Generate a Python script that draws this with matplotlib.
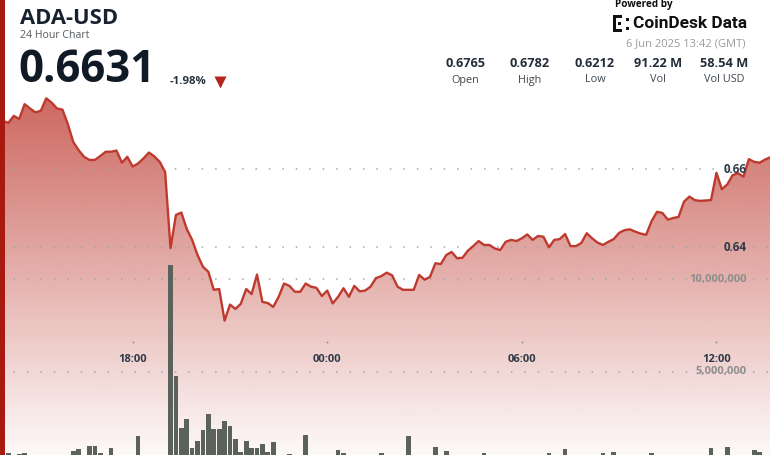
import numpy as np
import pandas as pd
import matplotlib
matplotlib.use("Agg")
import matplotlib.pyplot as plt
import matplotlib.dates as mdates
from matplotlib.patches import Rectangle

# ---------------- data ----------------
prices = [
    0.6765, 0.6724, 0.6719, 0.6737, 0.6729, 0.6767, 0.6756, 0.6746, 0.6750, 0.6782, 0.6771, 0.6756,
    0.6753, 0.6716, 0.6670, 0.6649, 0.6632, 0.6624, 0.6624, 0.6634, 0.6645, 0.6645, 0.6648, 0.6617,
    0.6632, 0.6607, 0.6615, 0.6628, 0.6643, 0.6633, 0.6619, 0.6593, 0.6398, 0.6483, 0.6489, 0.6447,
    0.6419, 0.6380, 0.6350, 0.6337, 0.6291, 0.6293, 0.6212, 0.6253, 0.6242, 0.6255, 0.6293, 0.6280,
    0.6330, 0.6260, 0.6257, 0.6247, 0.6273, 0.6307, 0.6301, 0.6286, 0.6286, 0.6307, 0.6299, 0.6296,
    0.6275, 0.6289, 0.6256, 0.6273, 0.6295, 0.6273, 0.6301, 0.6287, 0.6289, 0.6299, 0.6321, 0.6326,
    0.6335, 0.6328, 0.6299, 0.6291, 0.6291, 0.6291, 0.6329, 0.6317, 0.6324, 0.6359, 0.6357, 0.6380,
    0.6388, 0.6372, 0.6373, 0.6391, 0.6403, 0.6416, 0.6406, 0.6406, 0.6397, 0.6393, 0.6414, 0.6419,
    0.6416, 0.6423, 0.6433, 0.6419, 0.6429, 0.6427, 0.6400, 0.6419, 0.6421, 0.6434, 0.6403, 0.6403,
    0.6411, 0.6436, 0.6423, 0.6412, 0.6406, 0.6414, 0.6421, 0.6437, 0.6444, 0.6446, 0.6440, 0.6435,
    0.6432, 0.6467, 0.6491, 0.6488, 0.6471, 0.6475, 0.6478, 0.6517, 0.6530, 0.6521, 0.6519, 0.6520,
    0.6521, 0.6591, 0.6549, 0.6561, 0.6585, 0.6590, 0.6581, 0.6626, 0.6619, 0.6617, 0.6625, 0.6631,
]

volumes_m = [
    0.30, 0.30, 0.58, 0.30, 0.55, 0.58, 0.30, 0.30, 0.30, 0.30, 0.30, 0.30,
    0.30, 0.30, 0.73, 0.82, 0.30, 0.98, 0.98, 0.60, 0.30, 0.85, 0.30, 0.30,
    0.30, 0.30, 1.52, 0.30, 0.30, 0.30, 0.30, 0.30, 10.77, 4.77, 1.97, 2.42,
    0.87, 1.25, 1.86, 2.71, 1.90, 1.90, 2.32, 2.08, 1.34, 0.64, 1.25, 0.85,
    0.85, 1.10, 0.67, 1.18, 0.30, 0.30, 0.53, 0.30, 0.30, 1.58, 0.30, 0.30,
    0.30, 0.30, 0.30, 0.76, 0.58, 0.30, 0.30, 0.30, 0.30, 0.30, 0.30, 0.58,
    0.30, 0.30, 0.30, 0.30, 1.54, 0.30, 0.30, 0.30, 0.30, 0.94, 0.30, 0.73,
    0.30, 0.30, 0.30, 0.30, 0.30, 0.30, 0.58, 0.30, 0.30, 0.30, 0.30, 0.30,
    0.30, 0.30, 0.30, 0.30, 0.30, 0.30, 0.58, 0.30, 0.30, 0.82, 0.30, 0.30,
    0.30, 0.30, 0.30, 0.30, 0.58, 0.30, 0.68, 0.30, 0.30, 0.30, 0.30, 0.30,
    0.30, 0.58, 0.30, 0.30, 0.30, 0.30, 0.30, 0.30, 0.30, 0.30, 0.30, 0.30,
    0.85, 0.30, 0.30, 0.94, 0.30, 0.30, 0.30, 0.30, 0.76, 0.67, 0.30, 0.30,
]

times = pd.date_range("2025-06-05 13:50", periods=len(prices), freq="10min")
tick_times = pd.to_datetime(["2025-06-05 18:00", "2025-06-06 00:00",
                             "2025-06-06 06:00", "2025-06-06 12:00"])
tick_labels = ["18:00", "00:00", "06:00", "12:00"]
price_ticks = [0.64, 0.66]
price_tick_labels = ["0.64", "0.66"]
volume_ticks = [5_000_000, 10_000_000]
volume_tick_labels = ["5,000,000", "10,000,000"]

symbol = "ADA-USD"
subtitle = "24 Hour Chart"
last_price = "0.6631"
change_pct = "-1.98%"
timestamp = "6 Jun 2025 13:42 (GMT)"
stat_values = ["0.6765", "0.6782", "0.6212", "91.22 M", "58.54 M"]
stat_labels = ["Open", "High", "Low", "Vol", "Vol USD"]

# ---------------- style ----------------
plt.rcParams["font.family"] = ["Open Sans", "DejaVu Sans"]
W, H = 770, 455
def fx(px): return px / W
def fy(py): return 1 - py / H

LINE_RED = "#bf3a2e"
DARK = "#17222e"

fig = plt.figure(figsize=(7.7, 4.55), dpi=100)
fig.patch.set_facecolor("white")
rect = [0, 0, 1, 1]
ax_fill = fig.add_axes(rect)
ax_vol = fig.add_axes(rect, sharex=ax_fill)
ax_line = fig.add_axes(rect, sharex=ax_fill, sharey=ax_fill)
for a in (ax_fill, ax_vol, ax_line):
    a.set_axis_off()

tnum = mdates.date2num(times)
x_left = mdates.date2num(pd.Timestamp("2025-06-05 13:54:29"))
x_right = mdates.date2num(pd.Timestamp("2025-06-06 13:39:07"))
p_lo, p_hi = 0.58674, 0.70341
v_lo, v_hi = 492_000, 25_114_000

# gradient fill under price line
poly = ax_fill.fill_between(tnum, prices, p_lo - 0.01, facecolor="none", edgecolor="none")
clip_path = poly.get_paths()[0]
n = 256
grad = np.zeros((n, 1, 4))
grad[..., 0] = 190 / 255
grad[..., 1] = 60 / 255
grad[..., 2] = 50 / 255
grad[..., 3] = np.linspace(0.98, 0.03, n)[:, None]
im = ax_fill.imshow(grad, extent=[x_left - 1, x_right + 1, p_lo, p_hi], origin="upper",
                    aspect="auto", zorder=1, interpolation="bilinear")
im.set_clip_path(clip_path, transform=ax_fill.transData)

# dotted gridlines
for pt in price_ticks:
    ax_fill.axhline(pt, color="#a5a5a5", lw=1.1, ls=(0, (1, 7.8)), zorder=2)
for vt in volume_ticks:
    ax_vol.axhline(vt, color="#a5a5a5", lw=1.1, ls=(0, (1, 7.8)), zorder=1)

# volume bars
bar_w = (1 / 144) * 0.86
ax_vol.bar(tnum, np.array(volumes_m) * 1e6, width=bar_w, color="#5b615b",
           edgecolor="none", zorder=2)

# price line
ax_line.plot(tnum, prices, color=LINE_RED, lw=1.7, zorder=3, solid_joinstyle="round")

ax_fill.set_xlim(x_left, x_right)
ax_fill.set_ylim(p_lo, p_hi)
ax_vol.set_ylim(v_lo, v_hi)
ax_line.set_ylim(p_lo, p_hi)

# axis labels
xr = fx(747)
for pt, lab in zip(price_ticks, price_tick_labels):
    ax_line.text(xr, pt, lab, transform=ax_line.get_yaxis_transform(), ha="right",
                 va="center", fontsize=8.4, fontweight="bold", color="#2f3a46", zorder=5)
for vt, lab in zip(volume_ticks, volume_tick_labels):
    ax_vol.text(xr, vt, lab, transform=ax_vol.get_yaxis_transform(), ha="right",
                va="center", fontsize=8.0, fontweight="bold", color="#8e8e8e", zorder=5)
for tt, lab in zip(tick_times, tick_labels):
    xt = mdates.date2num(tt)
    ax_line.text(xt, fy(359.5), lab, transform=ax_line.get_xaxis_transform(), ha="center",
                 va="center", fontsize=8.0, fontweight="bold", color="#2f3a46", zorder=5)
    ax_line.plot([xt], [fy(342)], transform=ax_line.get_xaxis_transform(), marker="o",
                 ms=1.3, color="#8a8a8a", mec="none", zorder=5)

# left red bar
fig.patches.append(Rectangle((0, 0), fx(5), 1, transform=fig.transFigure,
                             facecolor="#a8190f", edgecolor="none", zorder=10))

# header (left)
fig.text(fx(20), fy(19), symbol, ha="left", va="center", fontsize=15.8,
         fontweight="bold", color=DARK, zorder=11)
fig.text(fx(20), fy(35.5), subtitle, ha="left", va="center", fontsize=7.6,
         color="#555b61", zorder=11)
fig.text(fx(18), fy(70), last_price, ha="left", va="center", fontsize=31.5,
         fontweight="bold", color="#0f1a26", zorder=11)
fig.text(fx(170), fy(81.5), change_pct, ha="left", va="center", fontsize=8.2,
         fontweight="bold", color="#2a3440", zorder=11)
fig.lines.append(plt.Line2D([fx(220)], [fy(81.5)], transform=fig.transFigure, marker="v",
                            ms=9, color="#b3261e", mec="none", zorder=11))

# header (right)
fig.text(fx(644), fy(4.5), "Powered by", ha="center", va="center", fontsize=7.2,
         fontweight="bold", color="#111111", zorder=11)
fig.text(fx(633), fy(23.5), "CoinDesk Data", ha="left", va="center", fontsize=12.4,
         fontweight="bold", color="#111111", zorder=11, family=["Roboto", "DejaVu Sans"])
logo_rects = [(613, 15, 3, 17), (613, 15, 9, 3), (613, 29, 9, 3), (618, 22, 3, 3),
              (626, 18, 3, 3), (626, 27, 3, 3)]
for (rx, ry, rw, rh) in logo_rects:
    fig.patches.append(Rectangle((fx(rx), fy(ry + rh)), rw / W, rh / H,
                                 transform=fig.transFigure, facecolor="#111111",
                                 edgecolor="none", zorder=11))
fig.text(fx(745), fy(43.5), timestamp, ha="right", va="center", fontsize=8,
         color="#9b9b9b", zorder=11)
stat_x = [465, 530, 595, 658, 724]
for sx, v, lab in zip(stat_x, stat_values, stat_labels):
    fig.text(fx(sx), fy(63.5), v, ha="center", va="center", fontsize=9.2,
             fontweight="bold", color="#222c38", zorder=11)
    fig.text(fx(sx), fy(80), lab, ha="center", va="center", fontsize=7.8,
             color="#3f4852", zorder=11)

fig.savefig("out.png", dpi=100, facecolor="white")
